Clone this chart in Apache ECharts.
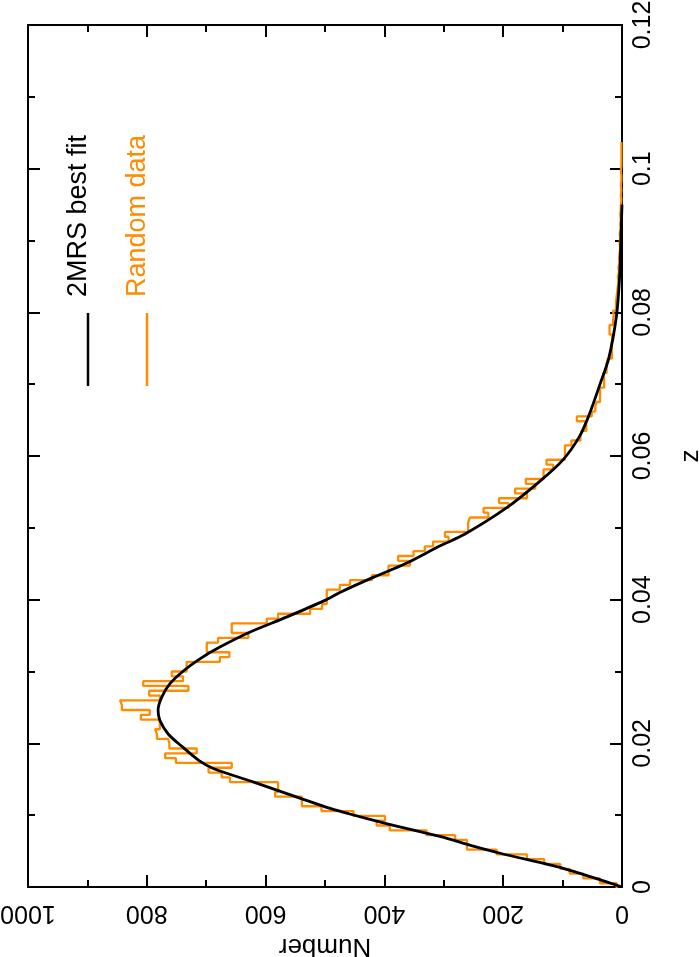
<!DOCTYPE html>
<html>
<head>
<meta charset="utf-8">
<script src="https://cdn.jsdelivr.net/npm/echarts@6/dist/echarts.min.js"></script>
<style>
  html, body { margin: 0; padding: 0; background: #fff; }
  #chart { width: 699px; height: 957px; }
</style>
</head>
<body>
<div id="chart"></div>
<script>
// histogram of the random data: bins in z, counts per bin
const binStart = -0.00015;
const binWidth = 0.00067;
const randomCounts = [
  9, 37, 65, 88, 104, 131, 160, 211, 261, 261,
  281, 329, 391, 413, 399, 452, 506, 539, 539, 584,
  579, 579, 660, 674, 696, 657, 751, 769, 716, 762,
  764, 783, 786, 778, 778, 810, 795, 842, 845, 778,
  796, 730, 806, 739, 758, 733, 733, 677, 661, 699,
  699, 680, 629, 657, 657, 598, 579, 525, 505, 497,
  497, 497, 475, 458, 421, 393, 393, 357, 377, 351,
  332, 318, 292, 298, 259, 259, 256, 225, 233, 191,
  207, 160, 180, 146, 162, 132, 132, 116, 127, 96,
  96, 96, 85, 70, 68, 60, 62, 76, 51, 45,
  43, 37, 37, 37, 30, 30, 32, 26, 26, 24,
  17, 17, 18, 16, 17, 21, 21, 15, 14, 15,
  10, 10, 9, 8, 7, 6, 7, 5, 6, 4,
  5, 4, 3, 4, 3, 4, 2, 3, 2, 3,
  2, 2, 1, 2, 1, 2, 1, 1, 2, 1,
  1, 1, 1, 1, 1
];

// 2MRS best fit curve
const fitZ = [0, 0.0013, 0.0026, 0.0047, 0.0058, 0.0070, 0.0088, 0.0102, 0.0109, 0.0123,
  0.0146, 0.0165, 0.0176, 0.0195, 0.0213, 0.0232, 0.0246, 0.0264, 0.0283, 0.0301,
  0.0318, 0.0334, 0.0355, 0.0376, 0.0399, 0.0410, 0.0431, 0.0450, 0.0475, 0.0491,
  0.0528, 0.0565, 0.0595, 0.0628, 0.0658, 0.0700, 0.0737, 0.0797, 0.085, 0.09, 0.095];
const fitN = [0, 48, 99, 205, 255, 305, 395, 460, 490, 540,
  620, 688, 712, 740, 764, 778, 781, 775, 761, 738,
  710, 677, 626, 564, 500, 475, 419, 365, 306, 265,
  194, 138, 99, 71, 55, 37, 22, 9, 4, 2, 0];

const fontFamily = "'Liberation Sans', Arial, sans-serif";

const histPoints = [];
randomCounts.forEach((n, j) => {
  const lo = binStart + j * binWidth;
  histPoints.push([n, lo], [n, lo + binWidth]);
});
const fitPoints = fitZ.map((z, i) => [fitN[i], z]);

const chart = echarts.init(document.getElementById('chart'), null, { renderer: 'canvas' });

const frameLine = { show: true, onZero: false, lineStyle: { color: '#000', width: 2 } };
const majorTick = { show: true, inside: true, length: 12, lineStyle: { color: '#000', width: 2 } };
const minorTick = { show: true, splitNumber: 2, length: 7, lineStyle: { color: '#000', width: 2 } };

chart.setOption({
  animation: false,
  backgroundColor: '#fff',
  grid: { left: 28, right: 77, top: 25, bottom: 70, containLabel: false, outerBoundsMode: 'none' },
  xAxis: [{
    type: 'value',
    position: 'bottom',
    inverse: true,
    min: 0, max: 1000, interval: 200,
    name: 'Number',
    nameLocation: 'middle',
    nameGap: 46,
    nameRotate: 180,
    nameTextStyle: { color: '#000', fontSize: 26, fontFamily: fontFamily },
    axisLine: frameLine,
    axisTick: majorTick,
    minorTick: minorTick,
    splitLine: { show: false },
    axisLabel: { rotate: 180, margin: 13, color: '#000', fontSize: 25, fontFamily: fontFamily,
      formatter: v => String(v) }
  }, {
    type: 'value',
    position: 'top',
    inverse: true,
    min: 0, max: 1000, interval: 200,
    axisLine: frameLine,
    axisTick: majorTick,
    minorTick: minorTick,
    splitLine: { show: false },
    axisLabel: { show: false }
  }],
  yAxis: [{
    type: 'value',
    position: 'right',
    min: 0, max: 0.12, interval: 0.02,
    name: 'z',
    nameLocation: 'middle',
    nameGap: 56,
    nameRotate: 90,
    nameTextStyle: { color: '#000', fontSize: 26, fontFamily: fontFamily },
    axisLine: frameLine,
    axisTick: majorTick,
    minorTick: minorTick,
    splitLine: { show: false },
    axisLabel: { rotate: 90, margin: 9, color: '#000', fontSize: 25, fontFamily: fontFamily }
  }, {
    type: 'value',
    position: 'left',
    min: 0, max: 0.12, interval: 0.02,
    axisLine: frameLine,
    axisTick: majorTick,
    minorTick: minorTick,
    splitLine: { show: false },
    axisLabel: { show: false }
  }],
  series: [{
    name: 'Random data',
    type: 'line',
    xAxisIndex: 0,
    yAxisIndex: 0,
    data: histPoints,
    showSymbol: false,
    lineStyle: { color: '#ff8c00', width: 2.3 },
    z: 2
  }, {
    name: '2MRS best fit',
    type: 'line',
    xAxisIndex: 0,
    yAxisIndex: 0,
    data: fitPoints,
    smooth: 0.3,
    showSymbol: false,
    lineStyle: { color: '#000', width: 2.8 },
    z: 3
  }],
  graphic: [
    { type: 'line', shape: { x1: 88, y1: 313, x2: 88, y2: 386 }, style: { stroke: '#000', lineWidth: 2.5 } },
    { type: 'line', shape: { x1: 147, y1: 313, x2: 147, y2: 386 }, style: { stroke: '#ff8c00', lineWidth: 2.5 } },
    { type: 'text', x: 79, y: 297, rotation: Math.PI / 2,
      style: { text: '2MRS best fit', fill: '#000', fontSize: 27, fontFamily: fontFamily,
        textAlign: 'left', textVerticalAlign: 'middle', align: 'left', verticalAlign: 'middle' } },
    { type: 'text', x: 138, y: 297, rotation: Math.PI / 2,
      style: { text: 'Random data', fill: '#ff8c00', fontSize: 27, fontFamily: fontFamily,
        textAlign: 'left', textVerticalAlign: 'middle', align: 'left', verticalAlign: 'middle' } }
  ]
});
</script>
</body>
</html>
